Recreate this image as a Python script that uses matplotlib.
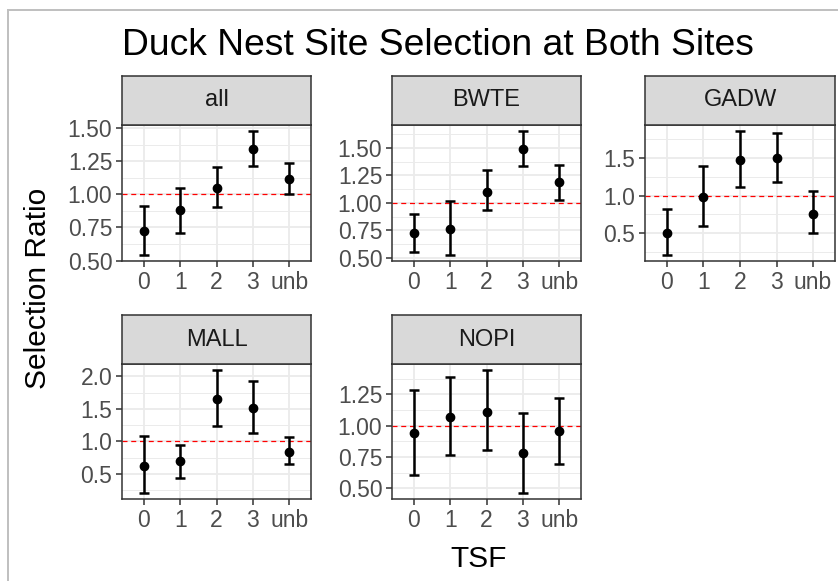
import matplotlib
matplotlib.use("Agg")
import matplotlib.pyplot as plt
from matplotlib.lines import Line2D
import numpy as np

plt.rcParams['font.family'] = ['Liberation Sans', 'DejaVu Sans']

# ---- data ----
categories = ['0', '1', '2', '3', 'unb']
species = ['all', 'BWTE', 'GADW', 'MALL', 'NOPI']

est_all = [0.723, 0.878, 1.051, 1.340, 1.119]
lo_all = [0.543, 0.708, 0.904, 1.217, 0.999]
hi_all = [0.911, 1.049, 1.207, 1.477, 1.239]

est_bwte = [0.721, 0.766, 1.101, 1.485, 1.186]
lo_bwte = [0.551, 0.527, 0.932, 1.337, 1.026]
hi_bwte = [0.896, 1.017, 1.295, 1.651, 1.340]

est_gadw = [0.504, 0.980, 1.478, 1.500, 0.762]
lo_gadw = [0.211, 0.598, 1.109, 1.180, 0.496]
hi_gadw = [0.824, 1.389, 1.860, 1.838, 1.060]

est_mall = [0.626, 0.692, 1.652, 1.515, 0.843]
lo_mall = [0.207, 0.439, 1.237, 1.121, 0.657]
hi_mall = [1.081, 0.944, 2.096, 1.934, 1.061]

est_nopi = [0.943, 1.072, 1.111, 0.783, 0.954]
lo_nopi = [0.605, 0.767, 0.807, 0.463, 0.697]
hi_nopi = [1.289, 1.389, 1.444, 1.098, 1.221]

ytick_labels = {
    'all': ['0.50', '0.75', '1.00', '1.25', '1.50'],
    'BWTE': ['0.50', '0.75', '1.00', '1.25', '1.50'],
    'GADW': ['0.5', '1.0', '1.5'],
    'MALL': ['0.5', '1.0', '1.5', '2.0'],
    'NOPI': ['0.50', '0.75', '1.00', '1.25'],
}

data = {
    'all': (est_all, lo_all, hi_all),
    'BWTE': (est_bwte, lo_bwte, hi_bwte),
    'GADW': (est_gadw, lo_gadw, hi_gadw),
    'MALL': (est_mall, lo_mall, hi_mall),
    'NOPI': (est_nopi, lo_nopi, hi_nopi),
}

title = 'Duck Nest Site Selection at Both Sites'
xlabel = 'TSF'
ylabel = 'Selection Ratio'
ref_line = 1.0

# ---- layout (pixels) ----
W, H = 838, 581
fig = plt.figure(figsize=(W / 100, H / 100), dpi=100)

def frac(x0, x1, y0, y1):
    return [x0 / W, 1 - y1 / H, (x1 - x0) / W, (y1 - y0) / H]

cols = [(122, 311), (392, 581), (645, 835)]
rows = [((76, 125), (125, 261)), ((315, 364), (364, 499))]

pos = {'all': (0, 0), 'BWTE': (0, 1), 'GADW': (0, 2), 'MALL': (1, 0), 'NOPI': (1, 1)}

tick_c = '#4D4D4D'
border_c = '#333333'
grid_c = '#EBEBEB'

for sp in species:
    r, c = pos[sp]
    (sy0, sy1), (py0, py1) = rows[r]
    x0, x1 = cols[c]
    ax = fig.add_axes(frac(x0, x1, py0, py1))
    est, lo, hi = data[sp]
    x = np.arange(len(categories))
    est = np.array(est); lo = np.array(lo); hi = np.array(hi)

    labs = ytick_labels[sp]
    ticks = [float(t) for t in labs]
    ax.set_yticks(ticks)
    ax.set_yticklabels(labs)
    step = ticks[1] - ticks[0]
    minors = np.arange(ticks[0] - step / 2, ticks[-1] + step, step)
    ax.set_yticks(minors, minor=True)
    ax.set_xticks(x)
    ax.set_xticklabels(categories)

    ymin = min(lo.min(), ref_line); ymax = max(hi.max(), ref_line)
    pad = 0.05 * (ymax - ymin)
    ax.set_ylim(ymin - pad, ymax + pad)
    ax.set_xlim(-0.6, len(categories) - 1 + 0.6)

    ax.grid(True, which='major', color=grid_c, linewidth=1.3, zorder=0)
    ax.grid(True, which='minor', axis='y', color=grid_c, linewidth=0.7, zorder=0)
    ax.set_axisbelow(True)
    ax.tick_params(which='minor', length=0)
    ax.tick_params(which='major', length=4, width=1.1, color=border_c,
                   labelsize=16.5, labelcolor=tick_c, pad=3)
    for s in ax.spines.values():
        s.set_color(border_c)
        s.set_linewidth(1.1)

    ax.axhline(ref_line, color='red', linestyle=(0, (4, 3)), linewidth=0.9, zorder=2)
    ax.errorbar(x, est, yerr=[est - lo, hi - est], fmt='o', color='black',
                markersize=6, elinewidth=1.8, capsize=3.5, capthick=1.8, zorder=3)

    sax = fig.add_axes(frac(x0, x1, sy0, sy1))
    sax.set_facecolor('#D9D9D9')
    sax.set_xticks([]); sax.set_yticks([])
    for s in sax.spines.values():
        s.set_color(border_c)
        s.set_linewidth(1.1)
    sax.text(0.5, 0.5, sp, ha='center', va='center', fontsize=17, color='#1A1A1A',
             transform=sax.transAxes)

fig.text(122 / W, 1 - 55 / H, title, ha='left', va='baseline', fontsize=26.8, color='black')
fig.text(479 / W, 1 - 559 / H, xlabel, ha='center', va='center', fontsize=21.5, color='black')
fig.text(38 / W, 1 - 288 / H, ylabel, ha='center', va='center', rotation=90,
         fontsize=21.5, color='black')

fig.add_artist(Line2D([8 / W, 1], [1 - 10 / H, 1 - 10 / H], color='#BFBFBF', linewidth=1.4,
                      transform=fig.transFigure))
fig.add_artist(Line2D([8 / W, 8 / W], [0, 1 - 10 / H], color='#BFBFBF', linewidth=1.4,
                      transform=fig.transFigure))

fig.savefig('out.png', dpi=100)
